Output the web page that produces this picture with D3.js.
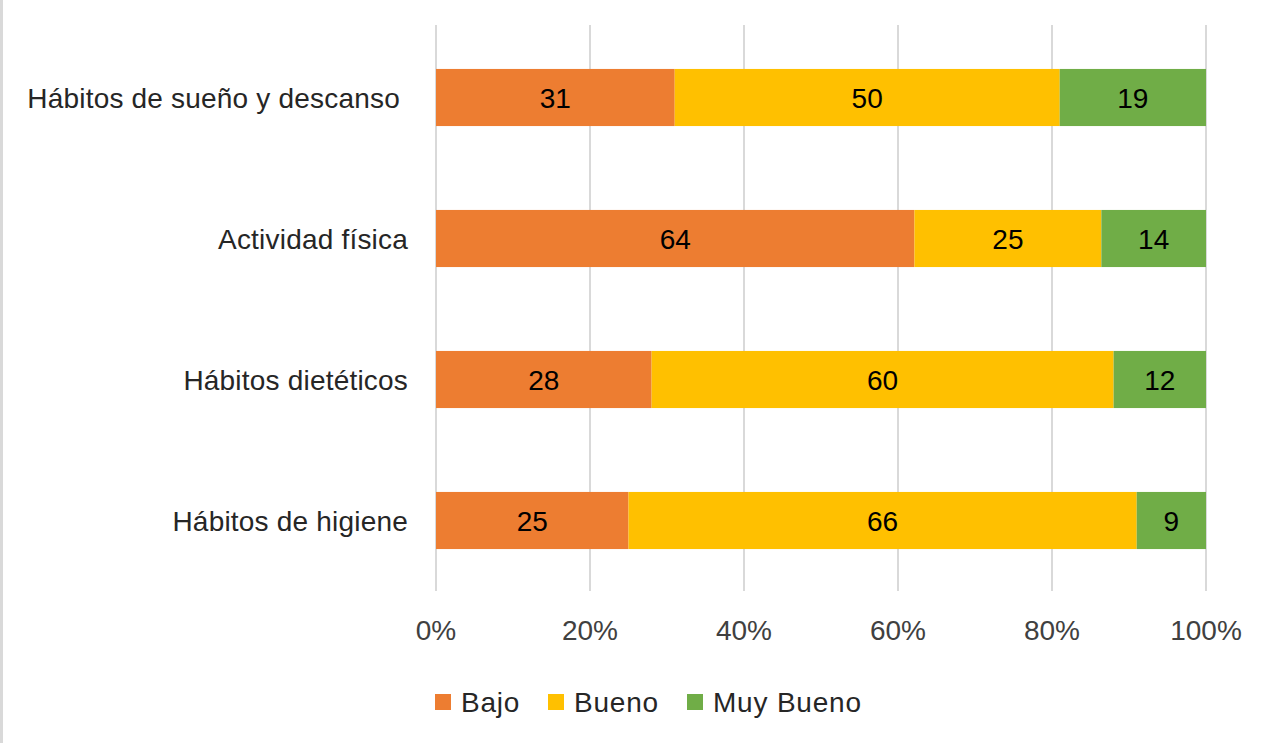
<!DOCTYPE html>
<html>
<head>
<meta charset="utf-8">
<script src="https://cdn.jsdelivr.net/npm/d3@7"></script>
<style>
  html, body { margin: 0; padding: 0; background: #fff; }
  svg { display: block; font-family: "Liberation Sans", Arial, sans-serif; }
  text { white-space: pre; }
</style>
</head>
<body>
<svg id="chart" width="1275" height="743"></svg>
<script>
// categories top to bottom, values as printed on the bars
let categories = ["Hábitos de sueño y descanso ", "Actividad física", "Hábitos dietéticos", "Hábitos de higiene"]
let seriesNames = ["Bajo", "Bueno", "Muy Bueno"]
let bajo = [31, 64, 28, 25]
let bueno = [50, 25, 60, 66]
let muyBueno = [19, 14, 12, 9]
let tickLabels = ["0%", "20%", "40%", "60%", "80%", "100%"]
let colors = ["#ED7D31", "#FFC000", "#70AD47"]

let svg = d3.select("#chart")

// light frame line on the left edge
svg.append("rect").attr("x", 0).attr("y", 0).attr("width", 3).attr("height", 743).attr("fill", "#d9d9d9")

let rows = categories.map((c, i) => ({cat: c, vals: [bajo[i], bueno[i], muyBueno[i]]}))

let x = d3.scaleLinear().domain([0, 1]).range([436, 1206])
let y = d3.scaleBand().domain(categories).range([27, 591]).paddingInner(0.595).paddingOuter(0.2975)

// gridlines
svg.append("g")
    .selectAll("line")
    .data(d3.range(0, 1.0001, 0.2))
    .enter()
    .append("line")
    .attr("x1", d => x(d)).attr("x2", d => x(d))
    .attr("y1", 25).attr("y2", 591)
    .attr("stroke", "#d9d9d9")
    .attr("stroke-width", 2)

// tick labels
svg.append("g")
    .selectAll("text")
    .data(tickLabels)
    .enter()
    .append("text")
    .attr("x", (d, i) => x(i * 0.2))
    .attr("y", 640)
    .attr("text-anchor", "middle")
    .attr("font-size", 28)
    .attr("fill", "#404040")
    .text(d => d)

// category labels
svg.append("g")
    .selectAll("text")
    .data(categories)
    .enter()
    .append("text")
    .attr("x", 408)
    .attr("y", d => y(d) + y.bandwidth() / 2 + 10)
    .attr("text-anchor", "end")
    .attr("font-size", 28)
    .attr("letter-spacing", 0.2)
    .attr("fill", "#262626")
    .text(d => d)

// stacked segments (normalised to row total)
rows.forEach(r => {
    let total = d3.sum(r.vals)
    let acc = 0
    let segs = r.vals.map((v, k) => {
        let s = {k: k, v: v, x0: acc / total, x1: (acc + v) / total}
        acc += v
        return s
    })
    let g = svg.append("g")
    g.selectAll("rect")
        .data(segs)
        .enter()
        .append("rect")
        .attr("x", d => x(d.x0))
        .attr("width", d => x(d.x1) - x(d.x0))
        .attr("y", y(r.cat))
        .attr("height", y.bandwidth())
        .attr("fill", d => colors[d.k])
    g.selectAll("text")
        .data(segs)
        .enter()
        .append("text")
        .attr("x", d => (x(d.x0) + x(d.x1)) / 2)
        .attr("y", y(r.cat) + y.bandwidth() / 2 + 10)
        .attr("text-anchor", "middle")
        .attr("font-size", 28)
        .attr("fill", "#000")
        .text(d => d.v)
})

// legend
let legendX = [435, 548, 687]
let legend = svg.append("g")
    .selectAll("g")
    .data(seriesNames)
    .enter()
    .append("g")
    .attr("transform", (d, i) => `translate(${legendX[i]},0)`)
legend.append("rect")
    .attr("x", 0).attr("y", 694)
    .attr("width", 16).attr("height", 16)
    .attr("fill", (d, i) => colors[i])
legend.append("text")
    .attr("x", 26).attr("y", 712)
    .attr("font-size", 28)
    .attr("letter-spacing", 0.8)
    .attr("fill", "#262626")
    .text(d => d)
</script>
</body>
</html>
